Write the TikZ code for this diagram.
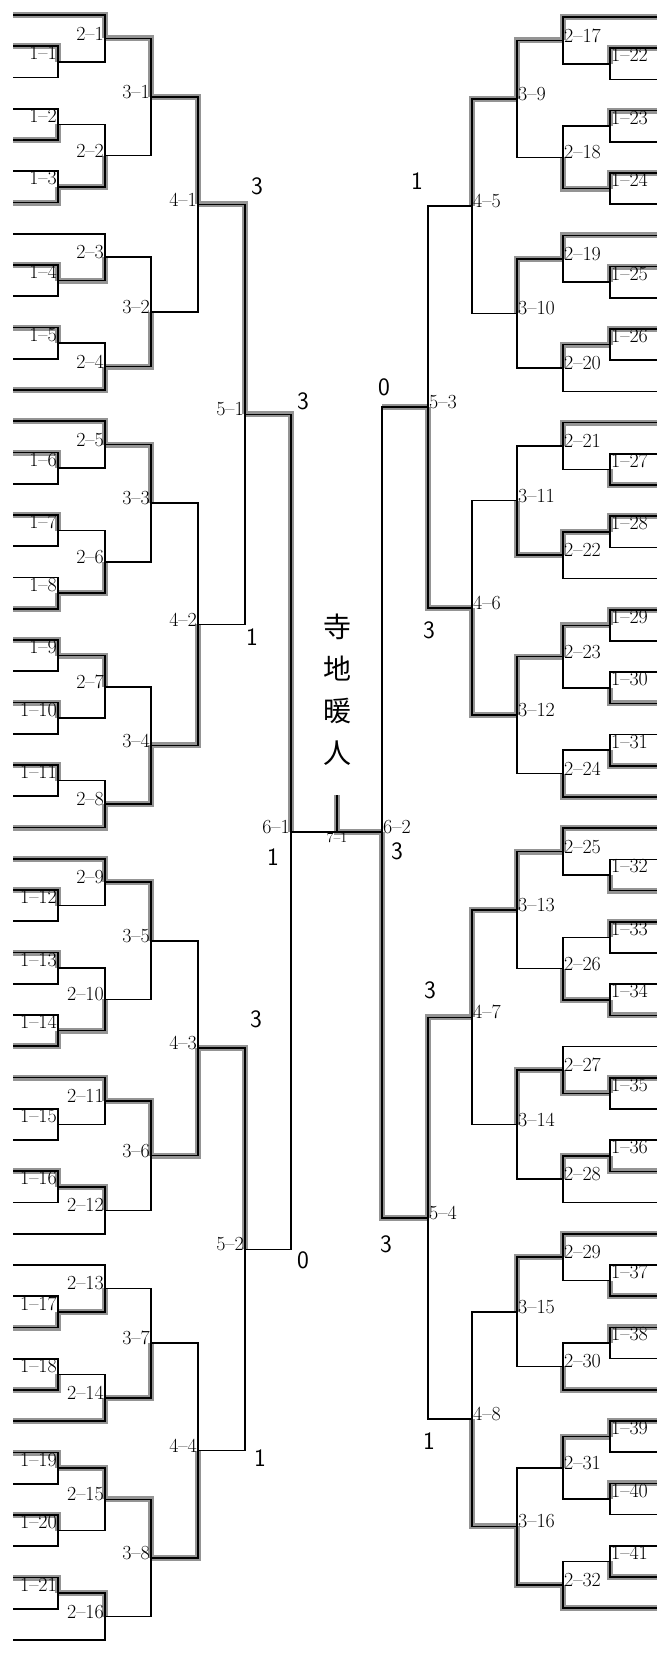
\documentclass[tikz,border=0pt]{standalone}
\usepackage{fontspec}
\newfontfamily\cjk{Noto Sans CJK JP}
\usetikzlibrary{calc}
\pgfdeclarelayer{bg}
\pgfsetlayers{bg,main}
\tikzset{
  bline/.style={black,line width=1.6pt},
  win/.style={black!42,line width=6pt},
  labA/.style={anchor=east,yshift=8.5pt,inner sep=1pt},
  labL/.style={anchor=east,yshift=5pt,inner sep=1pt},
  labB/.style={anchor=west,yshift=8.5pt,inner sep=1pt},
  labR/.style={anchor=west,yshift=5pt,inner sep=1pt},
  score/.style={font=\sffamily\fontsize{25}{25}\selectfont},
}
% #1 label style, #2 round, #3 number, #4 upper input, #5 lower input, #6 x of the vertical, #7 winner t/b/n
\newcommand\bkt[7]{%
  \coordinate (tmp) at ($(#4)!0.5!(#5)$);
  \coordinate (m#2-#3) at (#6,0 |- tmp);
  \begin{pgfonlayer}{bg}
    \ifx t#7\draw[win] (#4) -| (m#2-#3);\fi
    \ifx b#7\draw[win] (#5) -| (m#2-#3);\fi
  \end{pgfonlayer}
  \draw[bline] (#4) -| (m#2-#3) |- (#5);
  \node[#1] (n#2-#3) at (m#2-#3) {#2--#3};
}
\begin{document}
\begin{tikzpicture}[x=1pt,y=-1pt,font=\fontsize{20}{20}\selectfont]
  \useasboundingbox (0,0) rectangle (663,1655);
  \foreach \i in {0,...,52}{\coordinate (L\i) at (13,{15+31.25*\i});}
  \foreach \i in {0,...,51}{\coordinate (R\i) at (657,{17+31.2*\i});}
  % left half
  \bkt{labA}{1}{1}{L1}{L2}{58}{t}
  \bkt{labA}{1}{2}{L3}{L4}{58}{b}
  \bkt{labA}{1}{3}{L5}{L6}{58}{b}
  \bkt{labA}{1}{4}{L8}{L9}{58}{t}
  \bkt{labA}{1}{5}{L10}{L11}{58}{t}
  \bkt{labL}{2}{1}{L0}{m1-1}{105}{t}
  \bkt{labL}{2}{2}{m1-2}{m1-3}{105}{b}
  \bkt{labL}{2}{3}{L7}{m1-4}{105}{b}
  \bkt{labL}{2}{4}{m1-5}{L12}{105}{b}
  \bkt{labL}{3}{1}{m2-1}{m2-2}{151}{t}
  \bkt{labL}{3}{2}{m2-3}{m2-4}{151}{b}
  \bkt{labL}{4}{1}{m3-1}{m3-2}{198}{t}
  \bkt{labA}{1}{6}{L14}{L15}{58}{t}
  \bkt{labA}{1}{7}{L16}{L17}{58}{t}
  \bkt{labA}{1}{8}{L18}{L19}{58}{b}
  \bkt{labA}{1}{9}{L20}{L21}{58}{t}
  \bkt{labA}{1}{10}{L22}{L23}{58}{t}
  \bkt{labA}{1}{11}{L24}{L25}{58}{t}
  \bkt{labL}{2}{5}{L13}{m1-6}{105}{t}
  \bkt{labL}{2}{6}{m1-7}{m1-8}{105}{b}
  \bkt{labL}{2}{7}{m1-9}{m1-10}{105}{t}
  \bkt{labL}{2}{8}{m1-11}{L26}{105}{b}
  \bkt{labL}{3}{3}{m2-5}{m2-6}{151}{t}
  \bkt{labL}{3}{4}{m2-7}{m2-8}{151}{b}
  \bkt{labL}{4}{2}{m3-3}{m3-4}{198}{b}
  \bkt{labA}{1}{12}{L28}{L29}{58}{t}
  \bkt{labA}{1}{13}{L30}{L31}{58}{t}
  \bkt{labA}{1}{14}{L32}{L33}{58}{b}
  \bkt{labA}{1}{15}{L35}{L36}{58}{n}
  \bkt{labA}{1}{16}{L37}{L38}{58}{t}
  \bkt{labL}{2}{9}{L27}{m1-12}{105}{t}
  \bkt{labL}{2}{10}{m1-13}{m1-14}{105}{b}
  \bkt{labL}{2}{11}{L34}{m1-15}{105}{t}
  \bkt{labL}{2}{12}{m1-16}{L39}{105}{t}
  \bkt{labL}{3}{5}{m2-9}{m2-10}{151}{t}
  \bkt{labL}{3}{6}{m2-11}{m2-12}{151}{t}
  \bkt{labL}{4}{3}{m3-5}{m3-6}{198}{b}
  \bkt{labA}{1}{17}{L41}{L42}{58}{b}
  \bkt{labA}{1}{18}{L43}{L44}{58}{b}
  \bkt{labA}{1}{19}{L46}{L47}{58}{t}
  \bkt{labA}{1}{20}{L48}{L49}{58}{t}
  \bkt{labA}{1}{21}{L50}{L51}{58}{t}
  \bkt{labL}{2}{13}{L40}{m1-17}{105}{b}
  \bkt{labL}{2}{14}{m1-18}{L45}{105}{b}
  \bkt{labL}{2}{15}{m1-19}{m1-20}{105}{t}
  \bkt{labL}{2}{16}{m1-21}{L52}{105}{t}
  \bkt{labL}{3}{7}{m2-13}{m2-14}{151}{b}
  \bkt{labL}{3}{8}{m2-15}{m2-16}{151}{t}
  \bkt{labL}{4}{4}{m3-7}{m3-8}{198}{b}
  \bkt{labL}{5}{1}{m4-1}{m4-2}{245}{t}
  \bkt{labL}{5}{2}{m4-3}{m4-4}{245}{t}
  \bkt{labL}{6}{1}{m5-1}{m5-2}{291}{t}
  % right half
  \bkt{labB}{1}{22}{R1}{R2}{610}{t}
  \bkt{labB}{1}{23}{R3}{R4}{610}{t}
  \bkt{labB}{1}{24}{R5}{R6}{610}{t}
  \bkt{labB}{1}{25}{R8}{R9}{610}{t}
  \bkt{labB}{1}{26}{R10}{R11}{610}{t}
  \bkt{labR}{2}{17}{R0}{m1-22}{563}{t}
  \bkt{labR}{2}{18}{m1-23}{m1-24}{563}{b}
  \bkt{labR}{2}{19}{R7}{m1-25}{563}{t}
  \bkt{labR}{2}{20}{m1-26}{R12}{563}{t}
  \bkt{labR}{3}{9}{m2-17}{m2-18}{517}{t}
  \bkt{labR}{3}{10}{m2-19}{m2-20}{517}{t}
  \bkt{labR}{4}{5}{m3-9}{m3-10}{472}{t}
  \bkt{labB}{1}{27}{R14}{R15}{610}{b}
  \bkt{labB}{1}{28}{R16}{R17}{610}{t}
  \bkt{labB}{1}{29}{R19}{R20}{610}{t}
  \bkt{labB}{1}{30}{R21}{R22}{610}{b}
  \bkt{labB}{1}{31}{R23}{R24}{610}{b}
  \bkt{labR}{2}{21}{R13}{m1-27}{563}{t}
  \bkt{labR}{2}{22}{m1-28}{R18}{563}{t}
  \bkt{labR}{2}{23}{m1-29}{m1-30}{563}{t}
  \bkt{labR}{2}{24}{m1-31}{R25}{563}{b}
  \bkt{labR}{3}{11}{m2-21}{m2-22}{517}{b}
  \bkt{labR}{3}{12}{m2-23}{m2-24}{517}{t}
  \bkt{labR}{4}{6}{m3-11}{m3-12}{472}{b}
  \bkt{labB}{1}{32}{R27}{R28}{610}{b}
  \bkt{labB}{1}{33}{R29}{R30}{610}{t}
  \bkt{labB}{1}{34}{R31}{R32}{610}{b}
  \bkt{labB}{1}{35}{R34}{R35}{610}{t}
  \bkt{labB}{1}{36}{R36}{R37}{610}{b}
  \bkt{labR}{2}{25}{R26}{m1-32}{563}{t}
  \bkt{labR}{2}{26}{m1-33}{m1-34}{563}{b}
  \bkt{labR}{2}{27}{R33}{m1-35}{563}{b}
  \bkt{labR}{2}{28}{m1-36}{R38}{563}{t}
  \bkt{labR}{3}{13}{m2-25}{m2-26}{517}{t}
  \bkt{labR}{3}{14}{m2-27}{m2-28}{517}{t}
  \bkt{labR}{4}{7}{m3-13}{m3-14}{472}{t}
  \bkt{labB}{1}{37}{R40}{R41}{610}{b}
  \bkt{labB}{1}{38}{R42}{R43}{610}{t}
  \bkt{labB}{1}{39}{R45}{R46}{610}{t}
  \bkt{labB}{1}{40}{R47}{R48}{610}{t}
  \bkt{labB}{1}{41}{R49}{R50}{610}{b}
  \bkt{labR}{2}{29}{R39}{m1-37}{563}{t}
  \bkt{labR}{2}{30}{m1-38}{R44}{563}{b}
  \bkt{labR}{2}{31}{m1-39}{m1-40}{563}{t}
  \bkt{labR}{2}{32}{m1-41}{R51}{563}{b}
  \bkt{labR}{3}{15}{m2-29}{m2-30}{517}{t}
  \bkt{labR}{3}{16}{m2-31}{m2-32}{517}{b}
  \bkt{labR}{4}{8}{m3-15}{m3-16}{472}{b}
  \bkt{labR}{5}{3}{m4-5}{m4-6}{428}{b}
  \bkt{labR}{5}{4}{m4-7}{m4-8}{428}{t}
  % 6-2 and the final
  \coordinate (m6-2) at (382,0 |- m6-1);
  \coordinate (m7-1) at (337,0 |- m6-1);
  \begin{pgfonlayer}{bg}
    \draw[win] (m5-4) -| (m6-2);
    \draw[win] (m5-3) -- (m5-3 -| m6-2);
    \draw[win] (m6-2) -- (m7-1) -- ++(0,-37);
  \end{pgfonlayer}
  \draw[bline] (m5-3) -| (m6-2) |- (m5-4);
  \draw[bline] (m6-1) -- (m6-2);
  \draw[bline] (m7-1) -- ++(0,-37);
  \node[labR] (n6-2) at (m6-2) {6--2};
  \node[anchor=north,inner sep=1pt,font=\fontsize{14}{14}\selectfont] (n7-1) at (m7-1) {7--1};
  \node[font=\cjk\fontsize{28}{42}\selectfont,align=center] (champ) at (337,690) {寺\\地\\暖\\人};
  % scores
  \node[score] (s4-1) at (257,186) {3};
  \node[score] (s4-2) at (252,637) {1};
  \node[score] (s5-1) at (303,401) {3};
  \node[score] (s6-1) at (273,857) {1};
  \node[score] (s4-3) at (256,1019) {3};
  \node[score] (s5-2) at (303,1260) {0};
  \node[score] (s4-4) at (260,1458) {1};
  \node[score] (s4-5) at (417,181) {1};
  \node[score] (s5-3) at (384,387) {0};
  \node[score] (s4-6) at (429,630) {3};
  \node[score] (s6-2) at (397,851) {3};
  \node[score] (s4-7) at (430,990) {3};
  \node[score] (s5-4) at (386,1244) {3};
  \node[score] (s4-8) at (429,1441) {1};
\end{tikzpicture}
\end{document}
